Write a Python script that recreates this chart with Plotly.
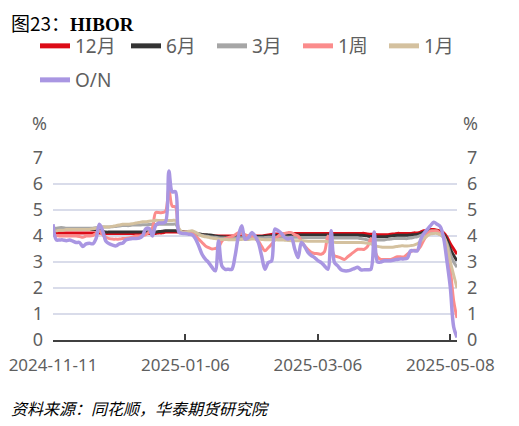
import plotly.graph_objects as go

# trading-day index (0 = 2024-11-11)
n_days = 123
x_idx = list(range(n_days))
tick_labels = ["2024-11-11", "2025-01-06", "2025-03-06", "2025-05-08"]
tick_pos = [0, 40, 80, 120]

hibor_12m = [
    4.12, 4.12, 4.12, 4.12, 4.12, 4.12, 4.12, 4.12, 4.12, 4.12,
    4.12, 4.12, 4.12, 4.12, 4.12, 4.1, 4.1, 4.1, 4.1, 4.1,
    4.1, 4.1, 4.1, 4.1, 4.1, 4.1, 4.1, 4.1, 4.1, 4.1,
    4.1, 4.1, 4.12, 4.12, 4.15, 4.15, 4.15, 4.15, 4.15, 4.15,
    4.15, 4.13, 4.1, 4.08, 4.06, 4.05, 4.03, 4.02, 4.01, 4.0,
    4.0, 4.0, 4.0, 4.0, 4.0, 4.0, 4.0, 4.0, 4.0, 4.0,
    4.0, 4.0, 4.0, 4.0, 4.02, 4.04, 4.06, 4.08, 4.08, 4.08,
    4.08, 4.1, 4.1, 4.1, 4.1, 4.1, 4.1, 4.1, 4.1, 4.1,
    4.1, 4.1, 4.1, 4.1, 4.1, 4.1, 4.1, 4.1, 4.1, 4.1,
    4.1, 4.1, 4.1, 4.1, 4.1, 4.08, 4.07, 4.07, 4.05, 4.05,
    4.05, 4.05, 4.07, 4.08, 4.1, 4.1, 4.1, 4.1, 4.1, 4.12,
    4.12, 4.15, 4.2, 4.22, 4.25, 4.25, 4.22, 4.18, 4.12, 3.95,
    3.7, 3.5, 3.3,
]
hibor_6m = [
    4.25, 4.25, 4.25, 4.25, 4.25, 4.25, 4.25, 4.25, 4.25, 4.25,
    4.25, 4.25, 4.25, 4.25, 4.22, 4.18, 4.15, 4.15, 4.15, 4.15,
    4.15, 4.15, 4.15, 4.15, 4.15, 4.15, 4.15, 4.15, 4.15, 4.15,
    4.15, 4.15, 4.17, 4.18, 4.2, 4.2, 4.2, 4.2, 4.18, 4.17,
    4.16, 4.15, 4.13, 4.1, 4.08, 4.06, 4.05, 4.04, 4.03, 4.0,
    3.98, 3.97, 3.96, 3.95, 3.95, 3.95, 3.95, 3.95, 3.96, 3.97,
    3.98, 3.98, 3.98, 3.98, 3.99, 4.0, 4.0, 4.02, 4.02, 4.02,
    4.03, 4.03, 4.03, 4.04, 4.04, 4.04, 4.04, 4.04, 4.04, 4.04,
    4.04, 4.04, 4.04, 4.04, 4.04, 4.04, 4.04, 4.04, 4.04, 4.04,
    4.04, 4.04, 4.04, 4.03, 4.02, 4.0, 3.98, 3.98, 3.97, 3.97,
    3.97, 3.98, 4.0, 4.02, 4.03, 4.03, 4.03, 4.03, 4.04, 4.05,
    4.06, 4.1, 4.15, 4.18, 4.2, 4.2, 4.18, 4.12, 4.05, 3.85,
    3.5, 3.25, 3.05,
]
hibor_3m = [
    4.3, 4.3, 4.32, 4.32, 4.3, 4.3, 4.3, 4.3, 4.3, 4.3,
    4.3, 4.3, 4.3, 4.32, 4.35, 4.35, 4.35, 4.35, 4.36, 4.37,
    4.38, 4.4, 4.4, 4.4, 4.42, 4.42, 4.42, 4.43, 4.43, 4.44,
    4.44, 4.44, 4.45, 4.45, 4.45, 4.45, 4.45, 4.45, 4.25, 4.15,
    4.15, 4.12, 4.1, 4.07, 4.05, 4.03, 4.0, 3.98, 3.96, 3.95,
    3.93, 3.92, 3.92, 3.92, 3.92, 3.92, 3.93, 3.93, 3.93, 3.93,
    3.93, 3.93, 3.93, 3.93, 3.94, 3.95, 3.95, 3.95, 3.95, 3.95,
    3.95, 3.95, 3.95, 3.95, 3.95, 3.94, 3.94, 3.94, 3.94, 3.94,
    3.94, 3.94, 3.94, 3.94, 3.93, 3.92, 3.92, 3.92, 3.92, 3.92,
    3.92, 3.92, 3.92, 3.9, 3.88, 3.85, 3.85, 3.85, 3.85, 3.85,
    3.85, 3.87, 3.88, 3.9, 3.9, 3.9, 3.9, 3.9, 3.92, 3.95,
    3.97, 4.02, 4.08, 4.12, 4.15, 4.15, 4.12, 4.05, 3.95, 3.7,
    3.3, 3.0, 2.8,
]
hibor_1w = [
    4.05, 4.02, 4.0, 4.0, 4.0, 4.0, 4.0, 4.0, 3.98, 3.95,
    4.0, 4.0, 4.02, 4.1, 4.2, 4.05, 3.95, 3.9, 3.88, 3.88,
    3.88, 3.9, 3.9, 3.92, 3.95, 4.0, 4.0, 4.02, 4.05, 4.15,
    4.3, 4.9, 4.9, 4.9, 4.95, 5.8, 5.15, 5.12, 4.2, 4.15,
    4.15, 4.12, 4.1, 4.0, 3.88, 3.75, 3.62, 3.55, 3.5, 3.52,
    3.56, 3.81, 3.9, 3.94, 3.98, 4.05, 4.13, 4.08, 4.05, 4.0,
    4.0, 3.9, 3.81, 3.6, 3.43, 3.55, 3.68, 3.85, 4.0, 4.05,
    4.1, 4.13, 4.13, 4.05, 4.0, 3.8, 3.62, 3.48, 3.37, 3.33,
    3.32, 3.3, 3.4, 4.0, 3.6, 3.24, 3.2, 3.15, 3.1, 3.2,
    3.3, 3.4, 3.49, 3.49, 3.49, 3.6, 3.9, 3.5, 3.2, 3.1,
    3.1, 3.1, 3.1, 3.15, 3.2, 3.2, 3.2, 3.3, 3.4, 3.45,
    3.45, 3.6, 3.85, 4.05, 4.2, 4.2, 4.2, 4.1, 4.0, 3.5,
    2.7, 1.5, 0.85,
]
hibor_1m = [
    4.2, 4.2, 4.22, 4.22, 4.25, 4.25, 4.25, 4.25, 4.25, 4.25,
    4.25, 4.25, 4.28, 4.3, 4.33, 4.35, 4.35, 4.35, 4.37, 4.4,
    4.42, 4.45, 4.45, 4.45, 4.47, 4.5, 4.52, 4.55, 4.55, 4.57,
    4.58, 4.6, 4.6, 4.6, 4.6, 4.6, 4.6, 4.6, 4.3, 4.15,
    4.15, 4.18, 4.2, 4.15, 4.07, 4.0, 3.97, 3.95, 3.92, 3.9,
    3.88, 3.87, 3.87, 3.86, 3.86, 3.86, 3.86, 3.87, 3.87, 3.87,
    3.88, 3.88, 3.88, 3.87, 3.86, 3.86, 3.86, 3.86, 3.85, 3.85,
    3.84, 3.83, 3.82, 3.82, 3.82, 3.82, 3.81, 3.8, 3.8, 3.8,
    3.8, 3.8, 3.8, 3.78, 3.78, 3.76, 3.75, 3.75, 3.75, 3.75,
    3.75, 3.75, 3.75, 3.75, 3.74, 3.72, 3.7, 3.65, 3.6, 3.58,
    3.57, 3.57, 3.57, 3.58, 3.6, 3.62, 3.62, 3.62, 3.63, 3.65,
    3.7, 3.8, 3.9, 4.0, 4.08, 4.1, 4.1, 4.05, 3.95, 3.6,
    3.0, 2.5, 2.0,
]
hibor_on = [
    4.45, 3.85, 3.85, 3.85, 3.82, 3.85, 3.8, 3.75, 3.75, 3.6,
    3.7, 3.72, 3.7, 3.9, 4.45, 4.2, 3.8, 3.7, 3.65, 3.62,
    3.7, 3.72, 3.85, 3.88, 3.9, 3.9, 3.92, 4.0, 4.27, 4.3,
    4.0, 4.4, 4.5, 4.5, 4.55, 6.5, 5.7, 5.7, 4.15, 4.1,
    4.1, 4.07, 4.05, 3.9, 3.62, 3.3, 3.11, 2.98, 2.8, 2.66,
    3.81, 2.85, 2.72, 2.72, 2.72, 3.24, 4.0, 4.39, 3.88, 3.94,
    4.13, 4.0, 3.75, 3.24, 2.72, 2.98, 3.04, 4.27, 4.2, 4.1,
    3.95, 3.88, 3.94, 3.5, 3.17, 3.75, 3.6, 3.37, 3.25, 3.17,
    3.05, 2.98, 2.85, 2.72, 4.2, 2.98, 2.85, 2.7, 2.66, 2.66,
    2.7, 2.75, 2.8, 2.7, 2.7, 2.7, 2.72, 4.15, 3.0, 3.0,
    3.05, 3.05, 3.05, 3.08, 3.1, 3.12, 3.12, 3.15, 3.43, 3.43,
    3.43, 3.85, 4.1, 4.25, 4.4, 4.53, 4.45, 4.35, 3.9, 3.0,
    2.0, 0.5, 0.1,
]

series_names = ["12月", "6月", "3月", "1周", "1月", "O/N"]
series_values = [hibor_12m, hibor_6m, hibor_3m, hibor_1w, hibor_1m, hibor_on]
series_colors = ["#dc0b16", "#333333", "#a6a6a6", "#fb8c8c", "#d4c19f", "#a996e2"]
series_widths = [3, 3, 3, 3, 3, 3.5]
# which legend block each entry sits in (row 1 split in two blocks, row 2 for O/N)
series_legend = ["legend", "legend3", "legend3", "legend3", "legend3", "legend2"]

FONT = "Noto Sans, Noto Sans CJK SC, sans-serif"
GRAY = "#5f5f5f"

W, H = 519, 426
OFF = 8  # page body margin offset
# plot area in figure pixels
PL, PR, PT, PB = 53 - OFF, 457 - OFF, 158 - OFF, 340 - OFF


def px(xp):
    return (xp - OFF - PL) / (PR - PL)


def py(yp):
    return (PB - (yp - OFF)) / (PB - PT)


fig = go.Figure()
for name, vals, col, w in zip(series_names, series_values, series_colors, series_widths):
    fig.add_trace(go.Scatter(
        x=x_idx, y=vals, mode="lines", name=name, showlegend=False,
        line=dict(color=col, width=w, shape="spline", smoothing=0.9),
        hoverinfo="skip",
    ))
# legend swatches (thicker lines)
for name, col, lg in zip(series_names, series_colors, series_legend):
    fig.add_trace(go.Scatter(
        x=[None], y=[None], mode="lines", name=name,
        line=dict(color=col, width=5), legend=lg,
    ))
# right axis twin
fig.add_trace(go.Scatter(x=[None], y=[None], yaxis="y2", showlegend=False))

legend_common = dict(
    orientation="h", xref="container", yref="container",
    xanchor="left", yanchor="middle",
    font=dict(family=FONT, size=19, color=GRAY),
    bgcolor="rgba(0,0,0,0)", itemwidth=30, tracegroupgap=0,
)

fig.update_layout(
    width=W, height=H,
    margin=dict(l=PL, r=W - PR, t=PT, b=H - PB, autoexpand=False),
    paper_bgcolor="white", plot_bgcolor="white",
    font=dict(family=FONT, size=18, color=GRAY),
    legend=dict(x=(35 - OFF) / W, y=1 - (46 - OFF) / H, **legend_common),
    legend3=dict(x=(126 - OFF) / W, y=1 - (46 - OFF) / H, entrywidth=41, **legend_common),
    legend2=dict(x=(35 - OFF) / W, y=1 - (80 - OFF) / H, **legend_common),
    xaxis=dict(
        range=[0, 122], tickmode="array", tickvals=tick_pos, ticktext=tick_labels,
        showgrid=False, zeroline=False, showline=True, linecolor="#404040", linewidth=1.5,
        ticks="inside", ticklen=6, tickwidth=1.5, tickcolor="#404040", automargin=False,
        ticklabelstandoff=9, ticklabeloverflow="allow",
        tickfont=dict(family=FONT, size=17, color=GRAY), fixedrange=True,
    ),
    yaxis=dict(
        range=[0, 7], dtick=1, showgrid=True, gridcolor="#d9dcea", gridwidth=1.5,
        zeroline=False, showline=False, ticks="", ticklabelstandoff=9, automargin=False,
        tickfont=dict(family=FONT, size=18, color=GRAY),
    ),
    yaxis2=dict(
        range=[0, 7], dtick=1, overlaying="y", side="right", showgrid=False,
        zeroline=False, showline=False, ticks="", ticklabelstandoff=9, automargin=False,
        tickfont=dict(family=FONT, size=18, color=GRAY),
    ),
    annotations=[
        dict(text="图23：<span style='font-family:Liberation Serif'><b>HIBOR</b></span>",
             xref="paper", yref="paper", x=px(9), y=py(22),
             xanchor="left", yanchor="middle", showarrow=False,
             font=dict(family="Noto Sans CJK SC", size=19, color="#000000")),
        dict(text="%", xref="paper", yref="paper", x=px(39.5), y=py(123),
             xanchor="center", yanchor="middle", showarrow=False,
             font=dict(family=FONT, size=18, color=GRAY)),
        dict(text="%", xref="paper", yref="paper", x=px(470), y=py(123),
             xanchor="center", yanchor="middle", showarrow=False,
             font=dict(family=FONT, size=18, color=GRAY)),
        dict(text="<i>资料来源：同花顺，华泰期货研究院</i>", xref="paper", yref="paper",
             x=px(9), y=py(408), xanchor="left", yanchor="middle", showarrow=False,
             font=dict(family="Noto Sans CJK SC", size=16, color="#000000")),
    ],
)

fig.write_html("out.html")
